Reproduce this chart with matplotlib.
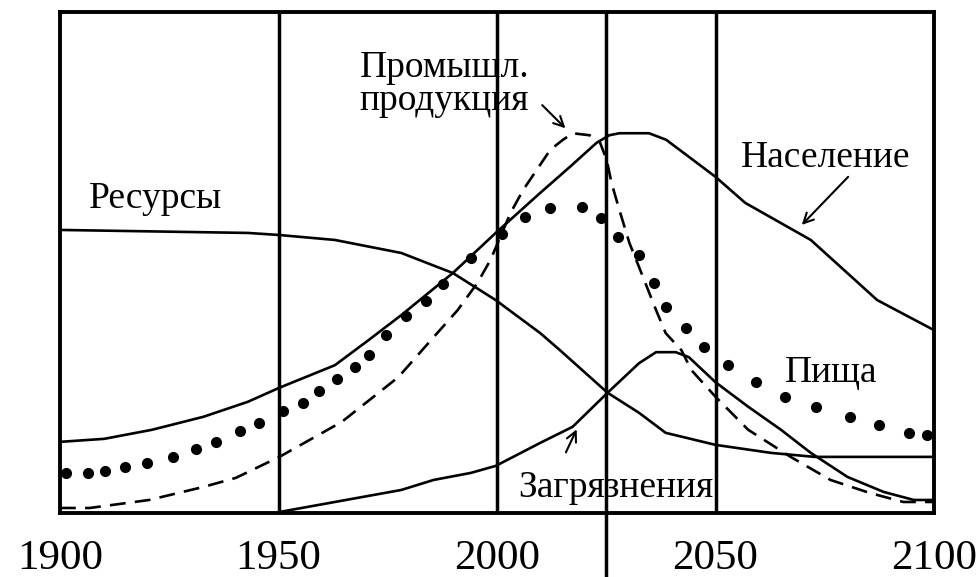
import matplotlib
matplotlib.use("Agg")
import matplotlib.pyplot as plt

plt.rcParams['font.family'] = ['Liberation Serif', 'DejaVu Serif']

# ---- data (years, relative level 0..100) ----
pop_years = [1900, 1910.1, 1921.0, 1932.8, 1943.0, 1950.2, 1962.9, 1970.6, 1978.1, 1989.9, 1999.7,
             2009.9, 2016.7, 2022.8, 2025.7, 2028.0, 2034.8, 2038.7, 2043.9, 2050, 2056.8,
             2071.8, 2087.0, 2100]
pop_vals = [14.2, 14.8, 16.6, 19.2, 22.2, 25.0, 29.5, 34.5, 39.5, 47.9, 55.9,
            63.9, 69.1, 73.9, 75.4, 75.8, 75.8, 74.5, 71.1, 67.1, 61.9,
            54.5, 42.5, 36.5]

res_years = [1900, 1943, 1950, 1962.9, 1978.1, 1989.9, 1999.7, 2009.9, 2014.4, 2025.3,
             2032.5, 2038.6, 2050, 2062.7, 2072.7, 2100]
res_vals = [56.5, 55.9, 55.5, 54.5, 51.9, 47.9, 42.5, 35.9, 32.5, 24.0,
            20.0, 16.0, 13.6, 12.0, 11.2, 11.2]

ind_years = [1900, 1906.8, 1920.4, 1932.8, 1940.2, 1950.2, 1964.5, 1977.4, 1985.5, 1991,
             1995.5, 1998.5, 2003.1, 2006, 2012.2, 2015.1, 2017.3, 2021.2, 2023.5, 2025.1,
             2026.2, 2028, 2030.3, 2032.5, 2036.4, 2038.6, 2042.2, 2044.5, 2050, 2057.5,
             2067.2, 2076.3, 2085.3, 2093, 2100]
ind_vals = [1.0, 1.0, 2.6, 5.2, 7.0, 11.2, 18.2, 27.1, 35.1, 40.5,
            45.9, 50.5, 59.9, 64.5, 72.5, 74.5, 75.8, 75.4, 74.1, 70.5,
            65.9, 60.5, 53.9, 49.1, 40.5, 35.9, 32.5, 28.5, 23.2, 16.6,
            11.2, 6.6, 4.0, 2.2, 2.2]

food_years = [1901.4, 1906.3, 1910.3, 1914.9, 1919.9, 1925.8, 1931.1, 1935.8, 1941.1, 1945.6,
              1951.1, 1955.7, 1959.2, 1963.4, 1967.5, 1970.8, 1974.7, 1979.2, 1983.8, 1987.6,
              1994.0, 2001.2, 2006.5, 2012.1, 2019.4, 2023.9, 2027.6, 2032.5, 2035.9, 2038.7,
              2043.2, 2047.3, 2052.9, 2059.3, 2065.9, 2072.9, 2080.8, 2087.4, 2094.2, 2098.3]
food_vals = [8.0, 8.0, 8.4, 9.1, 10.0, 11.2, 12.8, 14.2, 16.4, 17.9,
             20.4, 21.9, 24.4, 26.8, 29.1, 31.5, 35.5, 39.3, 42.3, 45.8,
             50.9, 55.7, 59.1, 60.9, 61.1, 58.9, 55.1, 51.5, 45.9, 41.1,
             36.9, 33.1, 29.5, 26.1, 23.2, 21.2, 19.2, 17.6, 16.0, 15.6]

pol_years = [1950.2, 1962.9, 1978.1, 1985.5, 1994, 1999.7, 2003.7, 2009.9, 2017.3, 2025.3,
             2032.5, 2036.4, 2040.9, 2043.9, 2050, 2057.5, 2065, 2071.8, 2080.2, 2088.5,
             2095.4, 2100]
pol_vals = [0.2, 2.2, 4.6, 6.6, 8.0, 9.4, 11.2, 14.0, 17.2, 24.0,
            29.9, 32.1, 32.1, 31.1, 26.1, 21.2, 16.6, 12.0, 7.2, 4.2,
            2.6, 2.6]

grid_years = [1950, 2000, 2025, 2050]
tick_years = [1900, 1950, 2000, 2050, 2100]
tick_labels = ["1900", "1950", "2000", "2050", "2100"]

# ---- figure ----
fig = plt.figure(figsize=(9.78, 5.77), dpi=100)
ax = fig.add_axes([60/978, 1-513/577, (934-60)/978, (513-12)/577])
ax.set_xlim(1900, 2100)
ax.set_ylim(0, 100)

lw = 1.9
ax.plot(pop_years, pop_vals, color='black', lw=lw)
ax.plot(res_years, res_vals, color='black', lw=lw)
ax.plot(pol_years, pol_vals, color='black', lw=lw)
ax.plot(ind_years, ind_vals, color='black', lw=lw, dashes=(6, 3.5))
ax.plot(food_years, food_vals, linestyle='none', marker='o', ms=7, color='black')

for gy in grid_years:
    if gy == 2025:
        ax.axvline(gy, ymin=-0.128, ymax=1, color='black', lw=2.5, clip_on=False)
    else:
        ax.axvline(gy, color='black', lw=2.5)

for s in ax.spines.values():
    s.set_linewidth(2.8)

ax.set_xticks(tick_years)
ax.set_xticklabels(tick_labels, fontsize=31)
ax.tick_params(axis='x', length=0, pad=19)
ax.set_yticks([])

fs = 27
ax.text(1906.7, 60.9, "Ресурсы", fontsize=fs, va='baseline', ha='left')
ax.text(1968.6, 87.0, "Промышл.", fontsize=fs, va='baseline', ha='left')
ax.text(1968.6, 80.4, "продукция", fontsize=fs, va='baseline', ha='left')
ax.text(2055.9, 69.1, "Население", fontsize=fs, va='baseline', ha='left')
ax.text(2065.9, 26.1, "Пища", fontsize=fs, va='baseline', ha='left')
ax.text(2004.9, 3.2, "Загрязнения", fontsize=fs, va='baseline', ha='left')

arrow = dict(arrowstyle='->', color='black', lw=1.5, mutation_scale=18)
ax.annotate("", xy=(2016.1, 76.4), xytext=(2009.9, 81.8), arrowprops=arrow)
ax.annotate("", xy=(2069.3, 57.1), xytext=(2080.8, 67.5), arrowprops=arrow)
ax.annotate("", xy=(2018.5, 17.2), xytext=(2015.5, 11.6), arrowprops=arrow)

fig.savefig("out.png", dpi=100)
